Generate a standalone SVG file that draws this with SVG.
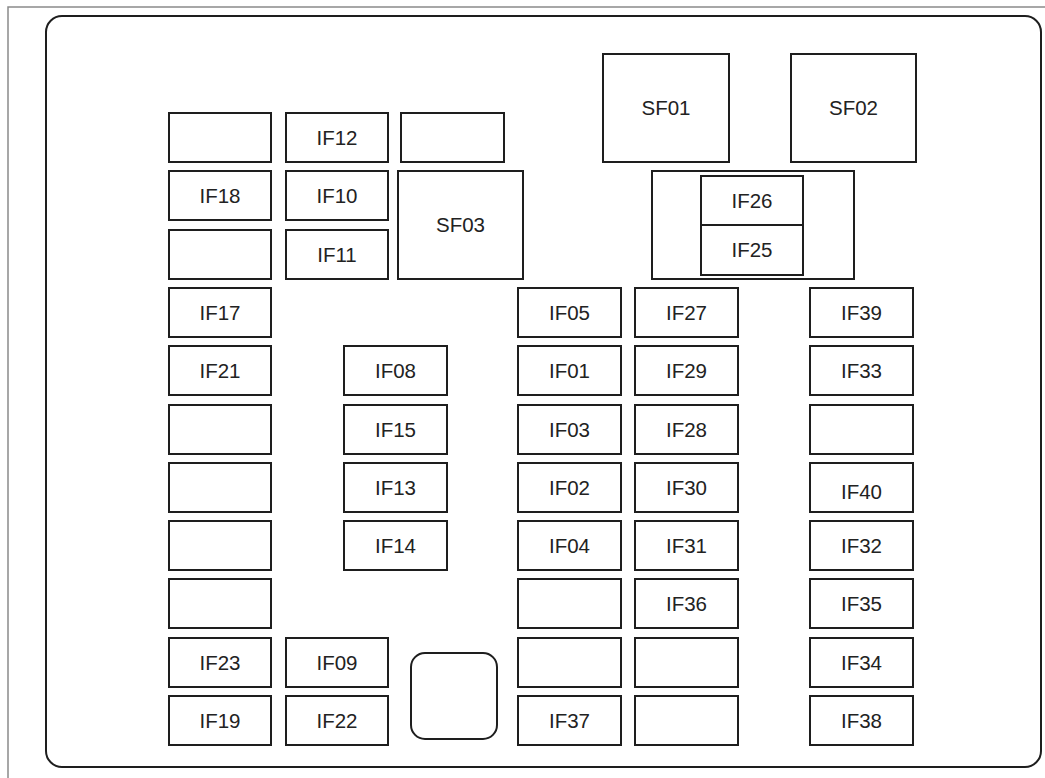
<svg xmlns="http://www.w3.org/2000/svg" width="1045" height="778" viewBox="0 0 1045 778">
<style>
.b{fill:#fff;stroke:#1e1e1e;stroke-width:2}
.t{font-family:"Liberation Sans",Arial,sans-serif;font-size:20.5px;fill:#222;text-anchor:middle}
</style>
<rect x="0" y="0" width="1045" height="778" fill="#fff"/>
<path d="M8 778 V7 H1045" fill="none" stroke="#8a8a8a" stroke-width="1.5"/>
<rect id="frame" x="46" y="16" width="995" height="751" rx="16" fill="#fff" stroke="#1e1e1e" stroke-width="2"/>
<g id="connectors"></g>
<g id="col1">
<g id="c1r1"><rect class="b" x="169" y="113" width="102" height="49"/></g>
<g id="IF18"><rect class="b" x="169" y="171" width="102" height="49"/><text class="t" x="220" y="203">IF18</text></g>
<g id="c1r3"><rect class="b" x="169" y="230" width="102" height="49"/></g>
<g id="IF17"><rect class="b" x="169" y="288" width="102" height="49"/><text class="t" x="220" y="320">IF17</text></g>
<g id="IF21"><rect class="b" x="169" y="346" width="102" height="49"/><text class="t" x="220" y="378">IF21</text></g>
<g id="c1r6"><rect class="b" x="169" y="405" width="102" height="49"/></g>
<g id="c1r7"><rect class="b" x="169" y="463" width="102" height="49"/></g>
<g id="c1r8"><rect class="b" x="169" y="521" width="102" height="49"/></g>
<g id="c1r9"><rect class="b" x="169" y="579" width="102" height="49"/></g>
<g id="IF23"><rect class="b" x="169" y="638" width="102" height="49"/><text class="t" x="220" y="670">IF23</text></g>
<g id="IF19"><rect class="b" x="169" y="696" width="102" height="49"/><text class="t" x="220" y="728">IF19</text></g>
</g>
<g id="col2">
<g id="IF12"><rect class="b" x="286" y="113" width="102" height="49"/><text class="t" x="337" y="145">IF12</text></g>
<g id="IF10"><rect class="b" x="286" y="171" width="102" height="49"/><text class="t" x="337" y="203">IF10</text></g>
<g id="IF11"><rect class="b" x="286" y="230" width="102" height="49"/><text class="t" x="337" y="262">IF11</text></g>
<g id="IF09"><rect class="b" x="286" y="638" width="102" height="49"/><text class="t" x="337" y="670">IF09</text></g>
<g id="IF22"><rect class="b" x="286" y="696" width="102" height="49"/><text class="t" x="337" y="728">IF22</text></g>
</g>
<g id="e12"><rect class="b" x="401" y="113" width="103" height="49"/></g>
<g id="SF03"><rect class="b" x="398" y="171" width="125" height="108"/><text class="t" x="460.5" y="232">SF03</text></g>
<g id="SF01"><rect class="b" x="603" y="54" width="126" height="108"/><text class="t" x="666" y="115">SF01</text></g>
<g id="SF02"><rect class="b" x="791" y="54" width="125" height="108"/><text class="t" x="853.5" y="115">SF02</text></g>
<g id="holder"><rect class="b" x="652" y="171" width="202" height="108"/></g>
<g id="IF26"><rect class="b" x="701" y="176" width="102" height="49"/><text class="t" x="752" y="208">IF26</text></g>
<g id="IF25"><rect class="b" x="701" y="225" width="102" height="50"/><text class="t" x="752" y="257">IF25</text></g>
<g id="col3">
<g id="IF08"><rect class="b" x="344" y="346" width="103" height="49"/><text class="t" x="395.5" y="378">IF08</text></g>
<g id="IF15"><rect class="b" x="344" y="405" width="103" height="49"/><text class="t" x="395.5" y="437">IF15</text></g>
<g id="IF13"><rect class="b" x="344" y="463" width="103" height="49"/><text class="t" x="395.5" y="495">IF13</text></g>
<g id="IF14"><rect class="b" x="344" y="521" width="103" height="49"/><text class="t" x="395.5" y="553">IF14</text></g>
</g>
<g id="relay"><rect class="b" x="411" y="653" width="86" height="86" rx="14"/></g>
<g id="colA">
<g id="IF05"><rect class="b" x="518" y="288" width="103" height="49"/><text class="t" x="569.5" y="320">IF05</text></g>
<g id="IF01"><rect class="b" x="518" y="346" width="103" height="49"/><text class="t" x="569.5" y="378">IF01</text></g>
<g id="IF03"><rect class="b" x="518" y="405" width="103" height="49"/><text class="t" x="569.5" y="437">IF03</text></g>
<g id="IF02"><rect class="b" x="518" y="463" width="103" height="49"/><text class="t" x="569.5" y="495">IF02</text></g>
<g id="IF04"><rect class="b" x="518" y="521" width="103" height="49"/><text class="t" x="569.5" y="553">IF04</text></g>
<g id="cAr6"><rect class="b" x="518" y="579" width="103" height="49"/></g>
<g id="cAr7"><rect class="b" x="518" y="638" width="103" height="49"/></g>
<g id="IF37"><rect class="b" x="518" y="696" width="103" height="49"/><text class="t" x="569.5" y="728">IF37</text></g>
</g>
<g id="colB">
<g id="IF27"><rect class="b" x="635" y="288" width="103" height="49"/><text class="t" x="686.5" y="320">IF27</text></g>
<g id="IF29"><rect class="b" x="635" y="346" width="103" height="49"/><text class="t" x="686.5" y="378">IF29</text></g>
<g id="IF28"><rect class="b" x="635" y="405" width="103" height="49"/><text class="t" x="686.5" y="437">IF28</text></g>
<g id="IF30"><rect class="b" x="635" y="463" width="103" height="49"/><text class="t" x="686.5" y="495">IF30</text></g>
<g id="IF31"><rect class="b" x="635" y="521" width="103" height="49"/><text class="t" x="686.5" y="553">IF31</text></g>
<g id="IF36"><rect class="b" x="635" y="579" width="103" height="49"/><text class="t" x="686.5" y="611">IF36</text></g>
<g id="cBr7"><rect class="b" x="635" y="638" width="103" height="49"/></g>
<g id="cBr8"><rect class="b" x="635" y="696" width="103" height="49"/></g>
</g>
<g id="colC">
<g id="IF39"><rect class="b" x="810" y="288" width="103" height="49"/><text class="t" x="861.5" y="320">IF39</text></g>
<g id="IF33"><rect class="b" x="810" y="346" width="103" height="49"/><text class="t" x="861.5" y="378">IF33</text></g>
<g id="cCr3"><rect class="b" x="810" y="405" width="103" height="49"/></g>
<g id="IF40"><rect class="b" x="810" y="463" width="103" height="49"/><text class="t" x="861.5" y="499">IF40</text></g>
<g id="IF32"><rect class="b" x="810" y="521" width="103" height="49"/><text class="t" x="861.5" y="553">IF32</text></g>
<g id="IF35"><rect class="b" x="810" y="579" width="103" height="49"/><text class="t" x="861.5" y="611">IF35</text></g>
<g id="IF34"><rect class="b" x="810" y="638" width="103" height="49"/><text class="t" x="861.5" y="670">IF34</text></g>
<g id="IF38"><rect class="b" x="810" y="696" width="103" height="49"/><text class="t" x="861.5" y="728">IF38</text></g>
</g>
</svg>
